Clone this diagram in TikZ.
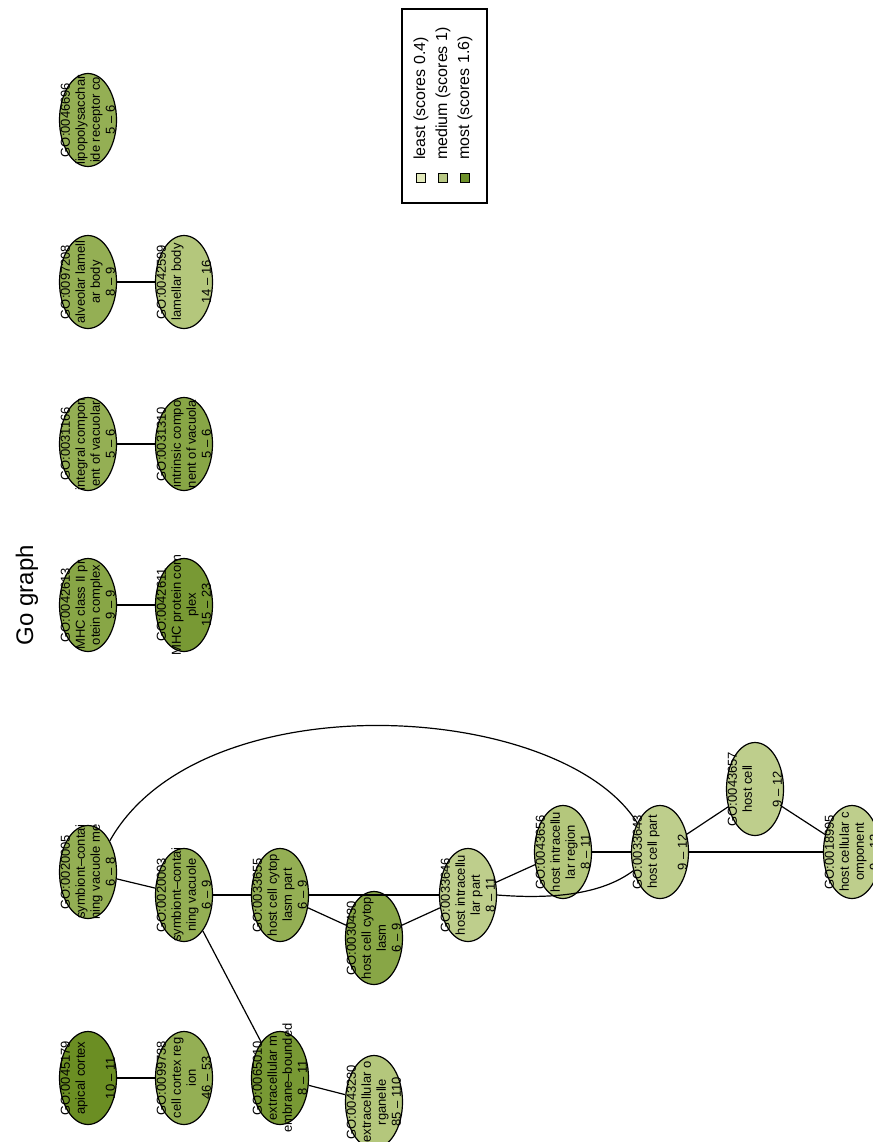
\documentclass[tikz,border=0pt]{standalone}
\usepackage{fontspec}
\setmainfont{Liberation Sans}
\usetikzlibrary{shapes.geometric}
\definecolor{golight}{RGB}{190,206,140}
\definecolor{golightmid}{RGB}{180,199,124}
\definecolor{gomid}{RGB}{148,175,84}
\definecolor{gomiddark}{RGB}{136,166,70}
\definecolor{godark}{RGB}{120,153,52}
\definecolor{godarkest}{RGB}{107,142,35}
\definecolor{keyleast}{RGB}{226,233,186}
\definecolor{keymedium}{RGB}{184,200,132}
\definecolor{keymost}{RGB}{110,145,42}
\begin{document}
\begin{tikzpicture}[x=1pt,y=-1pt,
  goterm/.style={draw,ellipse,line width=1.2pt,minimum width=57pt,minimum height=93pt,inner sep=0pt},
  golabel/.style={rotate=90,align=center,inner sep=0pt,font=\fontsize{13}{15}\selectfont},
  goline/.style={line width=1.2pt}]
\useasboundingbox (0,0) rectangle (872,1142);

\node[rotate=90,font=\fontsize{24}{28}\selectfont] (title) at (27,595) {Go graph};

\node[goterm,fill=godarkest] (g45179) at (88,1078) {};
\node[golabel] (l45179) at (88,1078) {GO:0045179\\apical cortex\\\mbox{}\\10 – 11};
\node[goterm,fill=gomid] (g99738) at (184,1078) {};
\node[golabel] (l99738) at (184,1078) {GO:0099738\\cell cortex reg\\ion\\46 – 53};
\node[goterm,fill=godark] (g65010) at (280,1078) {};
\node[golabel] (l65010) at (280,1078) {GO:0065010\\extracellular m\\embrane–bounded\\8 – 11};
\node[goterm,fill=golightmid] (g43230) at (374,1102) {};
\node[golabel] (l43230) at (374,1102) {GO:0043230\\extracellular o\\rganelle\\85 – 110};

\node[goterm,fill=gomid] (g20005) at (88,872) {};
\node[golabel] (l20005) at (88,872) {GO:0020005\\symbiont–contai\\ning vacuole me\\6 – 8};
\node[goterm,fill=gomid] (g20003) at (184,895) {};
\node[golabel] (l20003) at (184,895) {GO:0020003\\symbiont–contai\\ning vacuole\\6 – 9};
\node[goterm,fill=gomid] (g33655) at (280,895) {};
\node[golabel] (l33655) at (280,895) {GO:0033655\\host cell cytop\\lasm part\\6 – 9};
\node[goterm,fill=gomiddark] (g30430) at (374,938) {};
\node[golabel] (l30430) at (374,938) {GO:0030430\\host cell cytop\\lasm\\6 – 9};
\node[goterm,fill=golight] (g33646) at (468,895) {};
\node[golabel] (l33646) at (468,895) {GO:0033646\\host intracellu\\lar part\\8 – 11};
\node[goterm,fill=golightmid] (g43656) at (563,852) {};
\node[golabel] (l43656) at (563,852) {GO:0043656\\host intracellu\\lar region\\8 – 11};
\node[goterm,fill=golight] (g33643) at (660,852) {};
\node[golabel] (l33643) at (660,852) {GO:0033643\\host cell part\\\mbox{}\\9 – 12};
\node[goterm,fill=golight] (g43657) at (755,789) {};
\node[golabel] (l43657) at (755,789) {GO:0043657\\host cell\\\mbox{}\\9 – 12};
\node[goterm,fill=golight] (g18995) at (852,852) {};
\node[golabel] (l18995) at (852,852) {GO:0018995\\host cellular c\\omponent\\9 – 12};

\node[goterm,fill=gomiddark] (g42613) at (88,605) {};
\node[golabel] (l42613) at (88,605) {GO:0042613\\MHC class II pr\\otein complex\\9 – 9};
\node[goterm,fill=godark] (g42611) at (184,605) {};
\node[golabel] (l42611) at (184,605) {GO:0042611\\MHC protein com\\plex\\15 – 23};
\node[goterm,fill=gomid] (g31166) at (88,444) {};
\node[golabel] (l31166) at (88,444) {GO:0031166\\integral compon\\ent of vacuolar\\5 – 6};
\node[goterm,fill=gomiddark] (g31310) at (184,444) {};
\node[golabel] (l31310) at (184,444) {GO:0031310\\intrinsic compo\\nent of vacuola\\5 – 6};
\node[goterm,fill=gomid] (g97208) at (88,282) {};
\node[golabel] (l97208) at (88,282) {GO:0097208\\alveolar lamell\\ar body\\8 – 9};
\node[goterm,fill=golightmid] (g42599) at (184,282) {};
\node[golabel] (l42599) at (184,282) {GO:0042599\\lamellar body\\\mbox{}\\14 – 16};
\node[goterm,fill=gomid] (g46696) at (88,120) {};
\node[golabel] (l46696) at (88,120) {GO:0046696\\lipopolysacchar\\ide receptor co\\5 – 6};

\draw[goline] (g45179) -- (g99738);
\draw[goline] (g20005) -- (g20003);
\draw[goline] (g20003) -- (g33655);
\draw[goline] (g20003) -- (g65010);
\draw[goline] (g65010) -- (g43230);
\draw[goline] (g33655) -- (g30430);
\draw[goline] (g33655) -- (g33646);
\draw[goline] (g30430) -- (g33646);
\draw[goline] (g33646) -- (g43656);
\draw[goline] (g43656) -- (g33643);
\draw[goline] (g33646.east) .. controls (560,900) and (605,892) .. (g33643.215);
\draw[goline] (g20005.55) .. controls (200,680) and (560,700) .. (g33643.128);
\draw[goline] (g33643) -- (g43657);
\draw[goline] (g43657) -- (g18995);
\draw[goline] (g33643) -- (g18995);
\draw[goline] (g42613) -- (g42611);
\draw[goline] (g31166) -- (g31310);
\draw[goline] (g97208) -- (g42599);

\node[draw,line width=1.2pt,minimum width=85pt,minimum height=194pt,inner sep=0pt] (legend) at (444.5,106) {};
\node[draw,line width=1.2pt,fill=keyleast,minimum size=9pt,inner sep=0pt] (k1) at (421,178) {};
\node[draw,line width=1.2pt,fill=keymedium,minimum size=9pt,inner sep=0pt] (k2) at (443,178) {};
\node[draw,line width=1.2pt,fill=keymost,minimum size=9pt,inner sep=0pt] (k3) at (465,178) {};
\node[rotate=90,anchor=west,inner sep=0pt,font=\fontsize{16}{18}\selectfont] (t1) at (421,160) {least (scores 0.4)};
\node[rotate=90,anchor=west,inner sep=0pt,font=\fontsize{16}{18}\selectfont] (t2) at (443,160) {medium (scores 1)};
\node[rotate=90,anchor=west,inner sep=0pt,font=\fontsize{16}{18}\selectfont] (t3) at (465,160) {most (scores 1.6)};
\end{tikzpicture}
\end{document}
